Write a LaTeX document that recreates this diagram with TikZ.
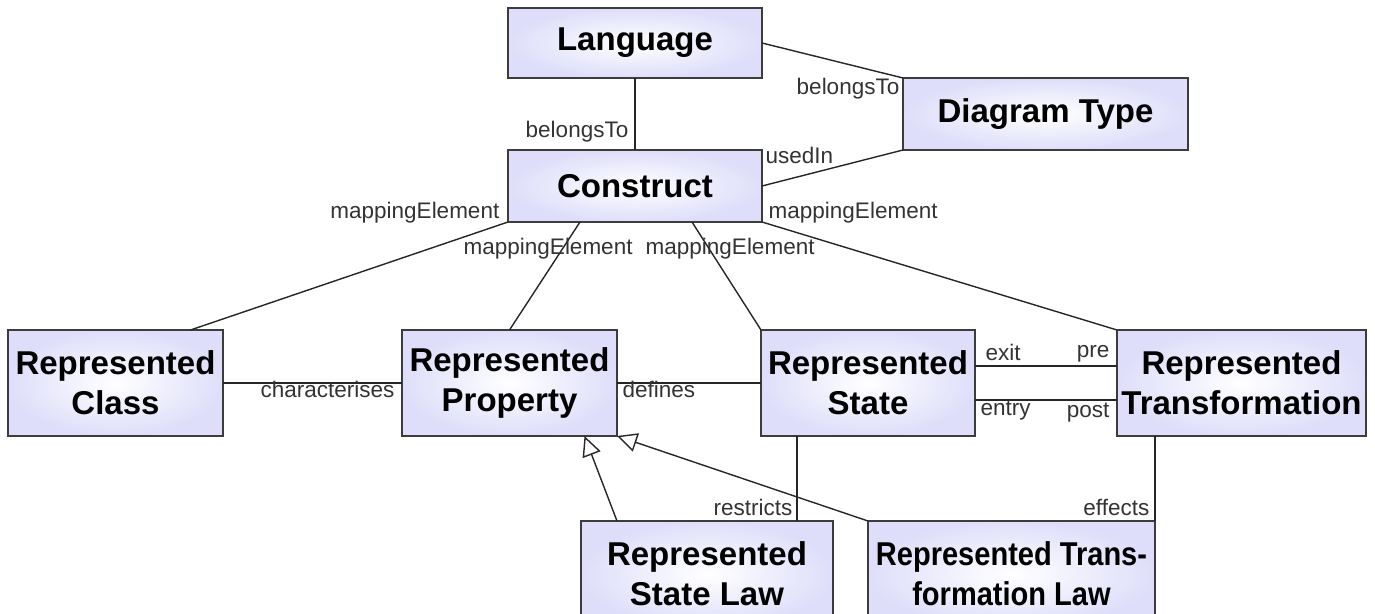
\documentclass[tikz,border=0pt]{standalone}
\usepackage{fontspec}
\setmainfont{Liberation Sans}
\newfontfamily\boxfont{Liberation Sans}
\newfontfamily\narrowboxfont{Liberation Sans}[FakeStretch=0.88]
\usepackage{xcolor}
\usepackage{tikz}
\usetikzlibrary{positioning, arrows.meta}
\definecolor{boxfill}{RGB}{222,222,250}
\definecolor{boxline}{RGB}{60,60,60}
\tikzstyle{block} = [rectangle, draw=boxline, line width=1.8pt, inner color=white, outer color=boxfill, inner sep=0pt, outer sep=0pt, minimum width=215pt, minimum height=106pt, align=center, font=\boxfont\bfseries\fontsize{33}{40}\selectfont]
\tikzstyle{lbl} = [inner sep=0pt, text=black!80, font=\fontsize{22.5}{27}\selectfont]
\tikzstyle{link} = [draw=black!85, line width=1.4pt]
\tikzstyle{inherit} = [link, -{Triangle[open, length=20pt, width=19pt, line width=1.4pt]}]

\begin{document}
\begin{tikzpicture}[x=1pt, y=-1pt]
		\useasboundingbox (0,0) rectangle (1375,613);
		\clip (0,0) rectangle (1375,613);
		% top row
		\node (Language)[block, minimum width=254pt, minimum height=70pt] at (635,43) {Language};
		\node (Construct)[block, minimum width=254pt, minimum height=72pt, below = 72pt of Language]{Construct};
		\node (DiagramType)[block, minimum width=285pt, minimum height=72pt] at (1045.5,114) {Diagram Type};
		% middle row
		\node (Class)[block] at (115.5,383) {Represented\\Class};
		\node (Property)[block, right = 179pt of Class]{Represented\\Property};
		\node (State)[block, minimum width=214pt, right = 144pt of Property]{Represented\\State};
		\node (Transformation)[block, minimum width=249pt, right = 142pt of State]{Represented\\Transformation};
		% bottom row
		\node (StateLaw)[block, minimum width=252pt] at (707,574) {Represented\\State Law};
		\node (TransLaw)[block, minimum width=287pt, right = 35pt of StateLaw, font=\narrowboxfont\bfseries\fontsize{33}{40}\selectfont]{Represented Trans-\\formation Law};

		\draw [link] (Language) -- node[lbl, pos=1, anchor=base east, xshift=-6pt, yshift=13pt]{belongsTo} (Construct);
		\draw [link] (Language.east) -- node[lbl, pos=1, anchor=base east, xshift=-3pt, yshift=-16pt]{belongsTo} (DiagramType.north west);
		\draw [link] (Construct.east) -- node[lbl, pos=0, anchor=base west, xshift=3pt, yshift=23pt]{usedIn} (DiagramType.south west);
		\draw [link] (Construct.south west) -- node[lbl, pos=0, anchor=base east, xshift=-8pt, yshift=4pt]{mappingElement} ([xshift=75pt]Class.north);
		\draw [link] ([xshift=-55pt]Construct.south) -- node[lbl, pos=0, anchor=base west, xshift=-117pt, yshift=-32pt]{mappingElement} (Property.north);
		\draw [link] ([xshift=57pt]Construct.south) -- node[lbl, pos=0, anchor=base west, xshift=-47pt, yshift=-32pt]{mappingElement} (State.north west);
		\draw [link] (Construct.south east) -- node[lbl, pos=0, anchor=base west, xshift=6pt, yshift=4pt]{mappingElement} (Transformation.north west);
		\draw [link] (Class) -- node[lbl, pos=1, anchor=base east, xshift=-7pt, yshift=-14pt]{characterises} (Property);
		\draw [link] (Property) -- node[lbl, pos=0, anchor=base west, xshift=5pt, yshift=-14pt]{defines} (State);
		\draw [link] ([yshift=17pt]State.east) -- node[lbl, pos=0, anchor=base west, xshift=10pt, yshift=6pt]{exit}
			node[lbl, pos=1, anchor=base east, xshift=-7pt, yshift=9pt]{pre} ([yshift=17pt]Transformation.west);
		\draw [link] ([yshift=-17pt]State.east) -- node[lbl, pos=0, anchor=base west, xshift=5pt, yshift=-15pt]{entry}
			node[lbl, pos=1, anchor=base east, xshift=-7pt, yshift=-17pt]{post} ([yshift=-17pt]Transformation.west);
		\draw [link] ([xshift=36pt]State.south west) -- node[lbl, pos=1, anchor=base east, xshift=-4pt, yshift=6pt]{restricts} ([xshift=36pt]State.south west |- StateLaw.north);
		\draw [link] (Transformation.south -| TransLaw.north east) -- node[lbl, pos=1, anchor=base east, xshift=-5pt, yshift=6pt]{effects} (TransLaw.north east);
		\draw [inherit] ([xshift=36pt]StateLaw.north west) -- ([xshift=75pt]Property.south);
		\draw [inherit] (TransLaw.north west) -- (Property.south east);
	\end{tikzpicture}
\end{document}
